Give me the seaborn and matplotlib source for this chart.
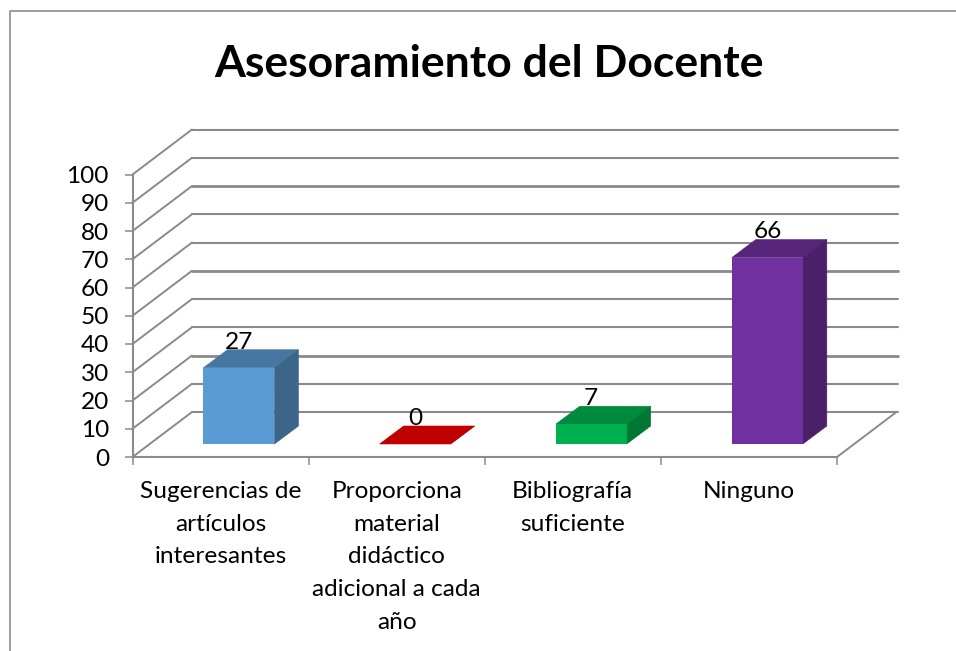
import matplotlib
matplotlib.use("Agg")
import matplotlib.pyplot as plt
from matplotlib.lines import Line2D
from matplotlib.patches import Polygon
import seaborn as sns

categorias = ["Sugerencias de\nartículos\ninteresantes",
              "Proporciona\nmaterial\ndidáctico\nadicional a cada\naño",
              "Bibliografía\nsuficiente",
              "Ninguno"]
valores = [27, 0, 7, 66]
ticks_y = [0, 10, 20, 30, 40, 50, 60, 70, 80, 90, 100]
titulo = "Asesoramiento del Docente"

color_frente = ["#5B9BD5", "#C00000", "#00B050", "#7030A0"]
color_arriba = ["#4776A3", "#C00000", "#008A3E", "#562478"]
color_lado = ["#3B6589", "#A00000", "#007732", "#4A2068"]
gris = "#8A8A8A"

sns.set_theme(style="white")
plt.rcParams['font.family'] = ['Lato', 'DejaVu Sans']

W, H = 956, 651
fig = plt.figure(figsize=(W / 100, H / 100), dpi=100)
# frente del grafico en pixeles de la imagen
x0, x1, y0, y100 = 132.5, 837, 457, 174.5
ax = fig.add_axes([x0 / W, (H - y0) / H, (x1 - x0) / W, (y0 - y100) / H])

px_x = 4 / (x1 - x0)
px_y = 100 / (y0 - y100)
# profundidad de la pared y de las barras
pared_x, pared_y = 61 * px_x, 45 * px_y
esquina_x = 59.5 * px_x
desp_x, desp_y = 18.4 * px_x, 13 * px_y
prof_x, prof_y = 24 * px_x, 18 * px_y

sns.barplot(x=categorias, y=valores, hue=categorias, palette=color_frente,
            width=0.403, saturation=1, legend=False, ax=ax, zorder=3, linewidth=0)
ax.set_xlim(-0.5, 3.5)
ax.set_ylim(0, 100)

# lineas de la pared
gruesas = [20, 50, 80]
for v in ticks_y:
    ax.plot([-0.5, -0.5 + esquina_x], [v, v + pared_y], color=gris, lw=1.4, clip_on=False, zorder=1)
    ax.plot([-0.5 + esquina_x, 3.5 + pared_x], [v + pared_y, v + pared_y],
            color=gris, lw=2.0 if v in gruesas else 1.5, clip_on=False, zorder=1)
ax.plot([3.5, 3.5 + esquina_x], [0, pared_y], color=gris, lw=1.4, clip_on=False, zorder=1)

# caras de las barras
for i, bar in enumerate(ax.patches):
    bar.set_x(bar.get_x() + desp_x)
    bar.set_y(desp_y)
    bar.set_clip_on(False)
    xa, xb = bar.get_x(), bar.get_x() + bar.get_width()
    ya = desp_y
    yb = desp_y + valores[i]
    ax.add_patch(Polygon([(xa, yb), (xb, yb), (xb + prof_x, yb + prof_y), (xa + prof_x, yb + prof_y)],
                         facecolor=color_arriba[i], edgecolor=color_arriba[i], lw=0.4, clip_on=False, zorder=2.9))
    ax.add_patch(Polygon([(xb, ya), (xb + prof_x, ya + prof_y), (xb + prof_x, yb + prof_y), (xb, yb)],
                         facecolor=color_lado[i], edgecolor=color_lado[i], lw=0.4, clip_on=False, zorder=2.9))
    ax.text((xa + xb) / 2, yb + prof_y + 0.4, str(valores[i]), ha="center", va="baseline",
            fontsize=17.6, color="black", clip_on=False, zorder=5)

for s in ["top", "right"]:
    ax.spines[s].set_visible(False)
for s in ["left", "bottom"]:
    ax.spines[s].set_color(gris)
    ax.spines[s].set_linewidth(1.5)

ax.set_yticks(ticks_y)
ax.tick_params(axis="y", length=6, width=1.1, color=gris, labelsize=17.6, labelcolor="black", pad=11, left=True)
ax.set_xticks([-0.5, 0.5, 1.5, 2.5, 3.5])
ax.set_xticklabels([])
ax.tick_params(axis="x", which="major", length=6, width=1.1, color=gris, bottom=True)
ax.set_xticks([0, 1, 2, 3], minor=True)
ax.set_xticklabels(categorias, minor=True, fontsize=17.6, color="black", linespacing=1.68)
ax.tick_params(axis="x", which="minor", length=0, pad=17.5)

fig.text(489 / W, 1 - 64 / H, titulo, ha="center", va="center", fontsize=32, fontweight="bold", color="black")

# borde del area del grafico
fig.add_artist(Line2D([9.5 / W, 9.5 / W, 1], [0, 1 - 10.5 / H, 1 - 10.5 / H],
                      transform=fig.transFigure, color="#8c8c8c", lw=1.2))

fig.savefig("out.png", dpi=100)
